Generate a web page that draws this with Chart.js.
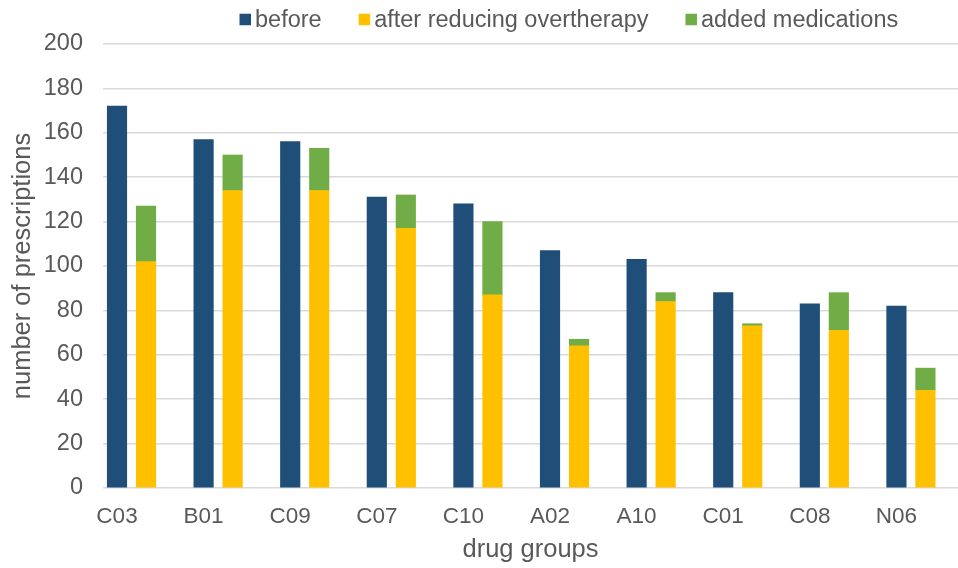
<!DOCTYPE html>
<html>
<head>
<meta charset="utf-8">
<script src="https://cdn.jsdelivr.net/npm/chart.js@4.4.1/dist/chart.umd.min.js"></script>
<style>
  html, body { margin: 0; padding: 0; background: #ffffff; overflow: hidden; }
  #wrap { width: 958px; height: 568px; position: relative; }
</style>
</head>
<body>
<div id="wrap"><canvas id="chart"></canvas></div>
<script>
// Prescriptions per drug group (ATC codes)
const drugGroups = ['C03', 'B01', 'C09', 'C07', 'C10', 'A02', 'A10', 'C01', 'C08', 'N06'];
const before = [172, 157, 156, 131, 128, 107, 103, 88, 83, 82];
const afterReducing = [102, 134, 134, 117, 87, 64, 84, 73, 71, 44];
const addedMedications = [25, 16, 19, 15, 33, 3, 4, 1, 17, 10];
const yAxisRange = [0, 200];
const yAxisStep = 20;

const seriesNames = ['before', 'after reducing overtherapy', 'added medications'];
const seriesColors = ['#1F4E79', '#FFC000', '#70AD47'];

const TEXT = '#595959';
const GRID = '#D9D9D9';
const FONT = '"Liberation Sans", Arial, Helvetica, sans-serif';

// The "after" stack stands just right of the "before" column of its group.
const PAIR_SHIFT = 0.335;
const AXIS_LEFT = 103;

const place = (values, shift) => values.map((v, i) => ({ x: i + shift, y: v }));

const barCommon = {
  grouped: false,
  categoryPercentage: 1,
  barPercentage: 1,
  maxBarThickness: 19.5,
  borderWidth: 0
};

// Series key drawn across the top of the canvas
const seriesKey = {
  id: 'seriesKey',
  afterDraw(chart) {
    const ctx = chart.ctx;
    ctx.save();
    ctx.font = '23.5px ' + FONT;
    ctx.textBaseline = 'middle';
    ctx.textAlign = 'left';
    const y = 19.5, box = 11.5;
    let x = 239.5;
    chart.data.datasets.forEach(ds => {
      ctx.fillStyle = ds.backgroundColor;
      ctx.fillRect(x, y - box / 2, box, box);
      x += box + 4;
      ctx.fillStyle = TEXT;
      ctx.fillText(ds.label, x, y + 1);
      x += ctx.measureText(ds.label).width + 37;
    });
    ctx.restore();
  }
};

new Chart(document.getElementById('chart'), {
  type: 'bar',
  data: {
    datasets: [
      { ...barCommon, label: seriesNames[0], data: place(before, 0), backgroundColor: seriesColors[0], stack: 'before' },
      { ...barCommon, label: seriesNames[1], data: place(afterReducing, PAIR_SHIFT), backgroundColor: seriesColors[1], stack: 'after' },
      { ...barCommon, label: seriesNames[2], data: place(addedMedications, PAIR_SHIFT), backgroundColor: seriesColors[2], stack: 'after' }
    ]
  },
  options: {
    responsive: true,
    maintainAspectRatio: false,
    animation: false,
    layout: { padding: { top: 44, left: 0, right: 0, bottom: 0 } },
    plugins: {
      legend: { display: false },
      tooltip: { enabled: false }
    },
    scales: {
      x: {
        type: 'linear',
        offset: false,
        min: -0.1617,
        max: 9.711,
        grid: { display: false, drawTicks: false },
        border: { display: false },
        ticks: {
          stepSize: 1,
          includeBounds: false,
          autoSkip: false,
          maxRotation: 0,
          padding: 15,
          color: TEXT,
          font: { family: FONT, size: 22.5 },
          callback: v => Number.isInteger(v) && drugGroups[v] !== undefined ? drugGroups[v] : ''
        },
        title: {
          display: true,
          text: 'drug groups',
          color: TEXT,
          font: { family: FONT, size: 25.5 },
          padding: { top: 0, bottom: 3 }
        },
        afterFit: s => { s.height = 80; }
      },
      y: {
        stacked: true,
        min: yAxisRange[0],
        max: yAxisRange[1],
        grid: { color: GRID, lineWidth: 1.5, drawTicks: false },
        border: { display: false },
        ticks: {
          stepSize: yAxisStep,
          padding: 20,
          color: TEXT,
          font: { family: FONT, size: 23.5 }
        },
        title: {
          display: true,
          text: 'number of prescriptions',
          color: TEXT,
          font: { family: FONT, size: 25.5 },
          padding: { top: 8, bottom: 0 }
        },
        afterFit: s => { s.width = AXIS_LEFT; }
      }
    }
  },
  plugins: [seriesKey]
});
</script>
</body>
</html>
